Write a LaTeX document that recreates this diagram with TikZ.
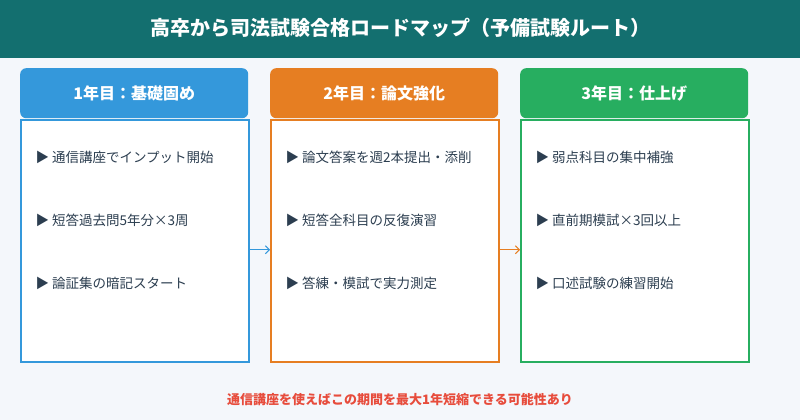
\documentclass[tikz,border=0pt]{standalone}
\usepackage{fontspec}
\setmainfont{Noto Sans CJK JP}
\usetikzlibrary{arrows.meta}
\definecolor{bg}{HTML}{F4F7FB}
\definecolor{teal}{HTML}{136F6F}
\definecolor{cA}{HTML}{3498DB}
\definecolor{cB}{HTML}{E67E22}
\definecolor{cC}{HTML}{27AE60}
\definecolor{txt}{HTML}{2C3E50}
\definecolor{red}{HTML}{E74C3C}
\begin{document}
\begin{tikzpicture}[x=1pt,y=-1pt,
  head/.style={rounded corners=6pt,minimum width=228pt,minimum height=50pt,inner sep=0pt,text=white,font=\bfseries\fontsize{16}{18}\selectfont},
  body/.style={draw=#1,line width=1.5pt,fill=white,minimum width=228pt,minimum height=242pt,inner sep=0pt},
  item/.style={anchor=west,text=txt,font=\fontsize{13.5}{15}\selectfont},
  arr/.style={-{Straight Barb[length=4pt,width=8pt]},line width=1pt,draw=#1}]
\fill[bg] (0,0) rectangle (800,420);
\useasboundingbox (0,0) rectangle (800,420);
\fill[teal] (0,0) rectangle (800,58);
\node[text=white,font=\bfseries\fontsize{20}{23}\selectfont] (title) at (400,28) {高卒から司法試験合格ロードマップ（予備試験ルート）};
\foreach \n/\x/\c/\h/\a/\b/\cc in {1/20/cA/1年目：基礎固め/通信講座でインプット開始/短答過去問5年分×3周/論証集の暗記スタート,
  2/270/cB/2年目：論文強化/論文答案を週2本提出・添削/短答全科目の反復演習/答練・模試で実力測定,
  3/520/cC/3年目：仕上げ/弱点科目の集中補強/直前期模試×3回以上/口述試験の練習開始}{
  \node[head,fill=\c,anchor=north west] (h\n) at (\x,68) {\h};
  \node[body=\c,anchor=north west] (b\n) at (\x,119) {};
  \node[item] (i\n a) at (\x+12,157) {▶\ \a};
  \node[item] (i\n b) at (\x+12,220) {▶\ \b};
  \node[item] (i\n c) at (\x+12,283) {▶\ \cc};
}
\draw[arr=cA] ([yshift=-9pt]b1.east) -- ([yshift=-9pt]b2.west);
\draw[arr=cB] ([yshift=-9pt]b2.east) -- ([yshift=-9pt]b3.west);
\node[text=red,font=\bfseries\fontsize{13}{15}\selectfont] (note) at (400,400) {通信講座を使えばこの期間を最大1年短縮できる可能性あり};
\end{tikzpicture}
\end{document}
